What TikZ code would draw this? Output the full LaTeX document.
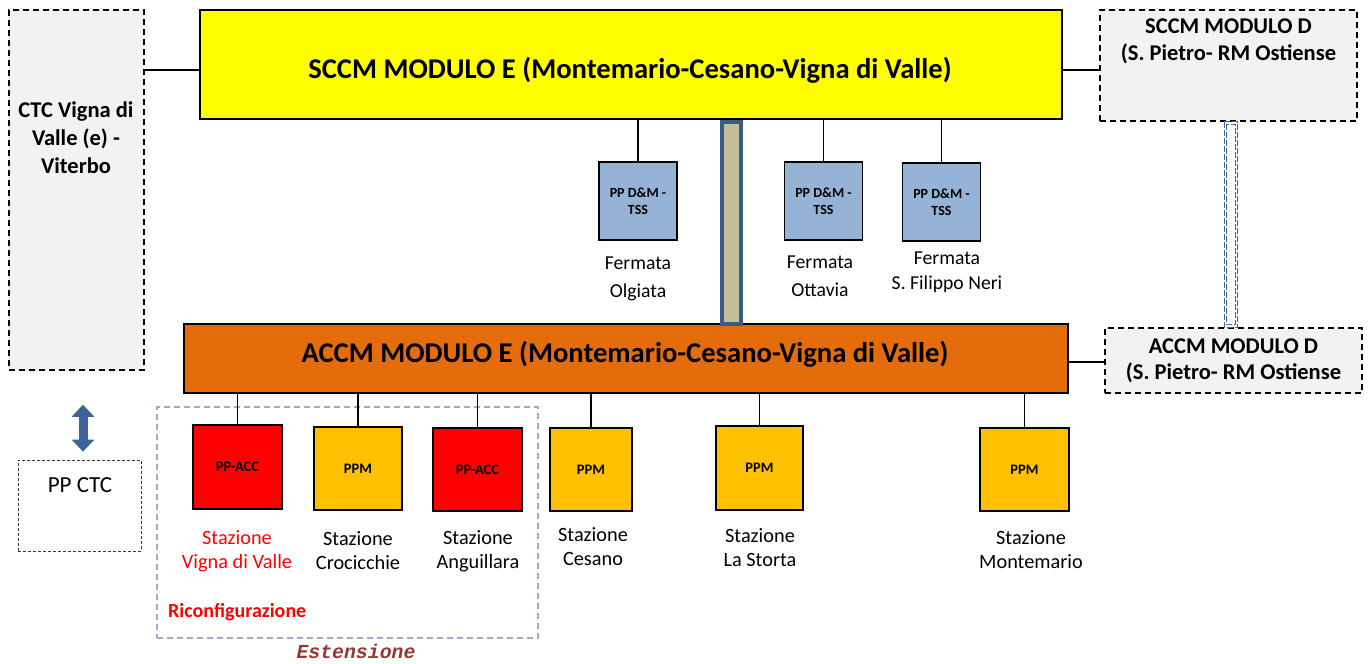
\documentclass[tikz,border=0pt]{standalone}
\usepackage{fontspec}
\setmainfont{Carlito}
\newfontfamily\estfont{Liberation Mono}
\usetikzlibrary{arrows.meta}
\definecolor{sccmyellow}{HTML}{FFFF00}
\definecolor{accmorange}{HTML}{E46C0A}
\definecolor{ppblue}{HTML}{95B3D7}
\definecolor{ppmgold}{HTML}{FFC000}
\definecolor{accred}{HTML}{FF0000}
\definecolor{lightgrayfill}{HTML}{F2F2F2}
\definecolor{bartan}{HTML}{C4BD97}
\definecolor{barblue}{HTML}{385D8A}
\definecolor{linkblue}{HTML}{41649B}
\definecolor{lavender}{HTML}{B3A2C7}
\definecolor{arrowblue}{HTML}{3C6496}
\definecolor{estred}{HTML}{953735}
\tikzset{
  mainbox/.style={draw=black, line width=1.5pt, inner sep=0pt},
  titletext/.style={inner sep=0pt, font=\fontsize{28.6}{32}\selectfont\bfseries},
  extbox/.style={draw=black, line width=1.5pt, dash pattern=on 6pt off 4pt, fill=lightgrayfill, inner sep=0pt},
  ppbox/.style={draw=black, line width=1.5pt, fill=ppblue, minimum width=78pt, minimum height=78pt, inner sep=0pt, align=center, font=\fontsize{14}{17}\selectfont\bfseries},
  ppmbox/.style={draw=black, line width=1.5pt, fill=ppmgold, minimum width=88pt, minimum height=84pt, inner sep=0pt, align=center, font=\fontsize{14.5}{17}\selectfont\bfseries},
  accbox/.style={ppmbox, fill=accred},
  lbl/.style={align=center, inner sep=0pt, font=\fontsize{20.3}{24}\selectfont},
  flbl/.style={align=center, inner sep=0pt, font=\fontsize{19.7}{28}\selectfont},
  conn/.style={draw=black, line width=1.3pt},
  linkline/.style={draw=linkblue, line width=1pt, dash pattern=on 6pt off 2pt},
}
\begin{document}
\begin{tikzpicture}[x=1pt,y=-1pt]
\useasboundingbox (0,0) rectangle (1369,664);
% left CTC
\node[extbox, minimum width=135pt, minimum height=360pt] (ctc) at (76.5,190) {};
\node[align=center, inner sep=0pt, font=\fontsize{22.5}{28}\selectfont\bfseries] (ctctext) at (76,138) {CTC Vigna di\\Valle (e) -\\Viterbo};
% SCCM E
\node[mainbox, fill=sccmyellow, minimum width=862pt, minimum height=109pt] (sccm) at (631,64.5) {};
\node[titletext] (sccmtext) at (630,70) {SCCM MODULO E (Montemario-Cesano-Vigna di Valle)};
% SCCM D
\node[extbox, minimum width=257pt, minimum height=111pt] (sccmd) at (1228.5,65.5) {};
\node[align=center, inner sep=0pt, font=\fontsize{22.5}{27}\selectfont\bfseries] (sccmdtext) at (1228.5,41.5) {SCCM MODULO D\\(S. Pietro- RM Ostiense};
% ACCM E
\node[mainbox, fill=accmorange, minimum width=884pt, minimum height=69pt] (accm) at (626,358.5) {};
\node[titletext] (accmtext) at (625,354) {ACCM MODULO E (Montemario-Cesano-Vigna di Valle)};
% ACCM D
\node[extbox, minimum width=257pt, minimum height=65pt, align=center, font=\fontsize{22.5}{26}\selectfont\bfseries] (accmd) at (1233.5,360.5) {ACCM MODULO D\\(S. Pietro- RM Ostiense};
% horizontal connectors
\draw[conn] ([yshift=-5.5pt]sccm.west) -- ([yshift=-5.5pt]sccm.west -| ctc.east);
\draw[conn] ([yshift=-5.5pt]sccm.east) -- ([yshift=-5.5pt]sccm.east -| sccmd.west);
\draw[conn] ([yshift=-3.5pt]accm.east) -- ([yshift=-3.5pt]accm.east -| accmd.west);
% link bar
\node[draw=barblue, line width=4pt, fill=bartan, minimum width=19pt, minimum height=202pt, inner sep=0pt] (bar) at (731.5,223) {};
% dashed double link between D modules
\draw[linkline] ([xshift=-4.5pt]sccmd.south) rectangle ([xshift=9pt]sccmd.south |- accmd.north);
\draw[linkline] ([xshift=-2pt,yshift=-2.5pt]sccmd.south) rectangle ([xshift=6.5pt,yshift=2.5pt]sccmd.south |- accmd.north);
% PP D&M boxes
\node[ppbox] (olg) at (638,201) {PP D\&M -\\TSS};
\node[ppbox] (ott) at (823.5,201) {PP D\&M -\\TSS};
\node[ppbox] (sfn) at (941.5,202) {PP D\&M -\\TSS};
\foreach \n in {olg,ott,sfn} \draw[conn] (\n.north) -- (\n.north |- sccm.south);
\node[flbl] (olgl) at (638,279) {Fermata\\Olgiata};
\node[flbl] (ottl) at (820,276.5) {Fermata\\Ottavia};
\node[flbl, font=\fontsize{19.7}{25}\selectfont] (sfnl) at (947,272.5) {Fermata\\S. Filippo Neri};
% Riconfigurazione box
\node[draw=lavender, line width=1.3pt, dash pattern=on 6pt off 4pt, minimum width=381pt, minimum height=231pt, inner sep=0pt] (ext) at (347.5,522.5) {};
% station boxes
\node[accbox, minimum width=89pt] (vv) at (237.5,467) {PP-ACC};
\node[ppmbox, minimum height=83pt] (cro) at (358,468.5) {PPM};
\node[accbox, minimum width=89pt, minimum height=83pt] (ang) at (477.5,469.5) {PP-ACC};
\node[ppmbox, minimum width=82pt, minimum height=83pt] (ces) at (591,469.5) {PPM};
\node[ppmbox, minimum width=87pt] (lst) at (759.5,468) {PPM};
\node[ppmbox, minimum width=89pt, minimum height=83pt] (mon) at (1024.5,469.5) {PPM};
\foreach \n in {vv,cro,ang,ces,lst,mon} \draw[conn] (\n.north) -- (\n.north |- accm.south);
\node[lbl, text=accred] (vvl) at (237,551) {Stazione\\Vigna di Valle};
\node[lbl] (crol) at (358,551) {Stazione\\Crocicchie};
\node[lbl] (angl) at (478,551) {Stazione\\Anguillara};
\node[lbl] (cesl) at (593,547) {Stazione\\Cesano};
\node[lbl] (lstl) at (760,548) {Stazione\\La Storta};
\node[lbl] (monl) at (1031,550) {Stazione\\Montemario};
\node[anchor=west, inner sep=0pt, text=accred, font=\fontsize{20}{22}\selectfont\bfseries] (ric) at (168,612) {Riconfigurazione};
\node[inner sep=0pt, text=estred, font=\fontsize{19.8}{22}\estfont\bfseries\itshape] (est) at (356,651) {Estensione};
% PP CTC
\node[draw=black!80, line width=0.8pt, dash pattern=on 3pt off 2pt, minimum width=123pt, minimum height=91pt, inner sep=0pt] (ppctc) at (79.5,505.5) {};
\node[inner sep=0pt, font=\fontsize{23}{26}\selectfont] (ppctct) at (80,485) {PP CTC};
% double arrow
\draw[arrowblue, line width=9pt, {Triangle[width=22pt,length=12pt]}-{Triangle[width=22pt,length=12pt]}]
  ([xshift=6.5pt,yshift=-34pt]ctc.south) -- ([xshift=3.5pt,yshift=8pt]ppctc.north);
\end{tikzpicture}
\end{document}
